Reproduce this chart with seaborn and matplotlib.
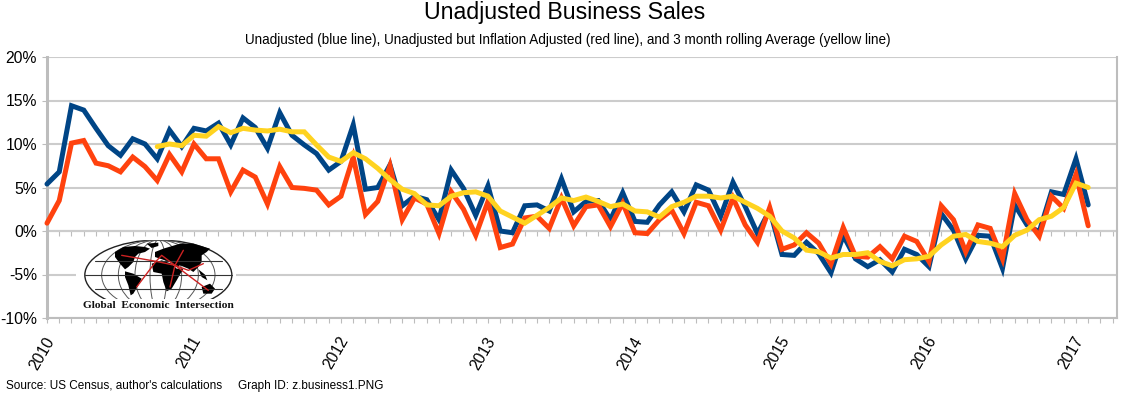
#!/usr/bin/env python3
import numpy as np
import pandas as pd
import matplotlib
matplotlib.use('Agg')
import matplotlib.pyplot as plt
from matplotlib.patches import Ellipse, Polygon, Rectangle
from matplotlib.transforms import ScaledTranslation
import seaborn as sns

# Values, percent year over year, monthly from Jan 2010
blue = [5.4, 6.8, 14.4, 13.9, 11.8, 9.8, 8.7, 10.6, 10.0, 8.3, 11.6, 9.7,
        11.8, 11.5, 12.4, 9.9, 13.0, 11.9, 9.5, 13.6, 11.0, 9.9, 8.9, 7.0,
        8.0, 12.2, 4.8, 5.0, 7.6, 2.9, 4.0, 3.6, 1.3, 7.0, 4.9, 1.8,
        5.2, 0.0, -0.2, 2.9, 3.0, 2.3, 6.0, 2.2, 3.4, 3.5, 1.3, 4.4,
        1.1, 1.0, 3.0, 4.5, 2.2, 5.3, 4.7, 1.7, 5.6, 2.8, -0.3, 2.4,
        -2.7, -2.8, -1.3, -2.6, -4.8, -0.5, -3.2, -4.1, -3.3, -4.7, -2.1, -2.7,
        -4.1, 2.0, 0.1, -3.2, -0.5, -0.6, -4.3, 3.0, 0.7, -0.1, 4.5, 4.2,
        8.3, 3.0]
red = [0.9, 3.5, 10.1, 10.4, 7.8, 7.5, 6.8, 8.5, 7.4, 5.8, 8.8, 6.8,
       10.0, 8.3, 8.3, 4.5, 7.0, 6.2, 3.1, 7.4, 5.0, 4.9, 4.7, 3.0,
       4.0, 8.5, 1.9, 3.4, 7.5, 1.3, 3.8, 3.1, -0.3, 4.5, 2.5, -0.5,
       3.4, -1.9, -1.5, 1.5, 1.7, 0.3, 3.8, 0.6, 2.8, 3.0, 0.5, 3.2,
       -0.2, -0.3, 1.3, 2.4, -0.3, 3.3, 2.9, 0.1, 3.8, 0.7, -1.3, 2.7,
       -2.1, -1.6, -0.2, -1.4, -3.8, 0.4, -2.9, -3.0, -1.8, -3.2, -0.6, -1.2,
       -3.5, 2.9, 1.3, -2.4, 0.7, 0.3, -3.2, 4.3, 1.3, -0.6, 4.0, 2.6,
       6.5, 0.6]
# 3 month rolling average starts in Oct 2010
yellow_start = 9
yellow = [9.7, 10.0, 9.8, 11.0, 10.9, 12.0, 11.3, 11.8, 11.6, 11.5, 11.7, 11.4,
          11.4, 9.9, 8.5, 8.0, 9.0, 8.3, 7.2, 5.9, 4.8, 4.3, 3.0, 2.9,
          4.0, 4.4, 4.5, 4.0, 2.3, 1.6, 0.9, 1.8, 2.7, 3.8, 3.5, 3.9,
          3.4, 2.8, 3.1, 2.3, 2.2, 1.6, 2.8, 3.3, 4.0, 4.0, 3.8, 4.0,
          3.3, 2.6, 1.7, 0.0, -0.8, -2.2, -2.4, -3.1, -2.7, -2.7, -2.5, -3.5,
          -4.0, -3.3, -3.2, -2.9, -1.6, -0.6, -0.4, -1.2, -1.4, -1.8, -0.5, 0.1,
          1.3, 1.7, 2.7, 5.5, 5.0]
years = ['2010', '2011', '2012', '2013', '2014', '2015', '2016', '2017']
y_ticks = [-10, -5, 0, 5, 10, 15, 20]

title = 'Unadjusted Business Sales'
subtitle = ('Unadjusted (blue line), Unadjusted but Inflation Adjusted (red line), '
            'and 3 month rolling Average (yellow line)')
source = "Source: US Census, author's calculations"
graph_id = 'Graph ID: z.business1.PNG'
logo_text = 'Global  Economic  Intersection'

GRID = '#cccccc'
AXIS = '#bdbdbd'
COLORS = {'blue': '#004586', 'red': '#ff420e', 'yellow': '#ffd320'}

sns.set_theme(style='white')
plt.rcParams['font.family'] = ['Liberation Sans', 'DejaVu Sans']

n = len(blue)
df = pd.DataFrame({
    'month': list(range(n)) * 2 + list(range(yellow_start, yellow_start + len(yellow))),
    'value': blue + red + yellow,
    'series': ['blue'] * n + ['red'] * n + ['yellow'] * len(yellow),
})

W, H = 1122, 393
fig = plt.figure(figsize=(W / 100, H / 100), dpi=100)
ax = fig.add_axes([47 / W, 1 - 318 / H, (1117 - 47) / W, (318 - 57) / H])

ax.set_xlim(0, 87.35)
ax.set_ylim(-10, 20)
ax.yaxis.grid(True, color=GRID, linewidth=1.5)
ax.set_axisbelow(True)

sns.lineplot(data=df, x='month', y='value', hue='series', palette=COLORS,
             hue_order=['blue', 'red', 'yellow'], linewidth=3.6, legend=False,
             errorbar=None, estimator=None, ax=ax, clip_on=False,
             solid_joinstyle='miter', zorder=3)
ax.set_xlabel('')
ax.set_ylabel('')

for name in ['left', 'bottom', 'right', 'top']:
    ax.spines[name].set_color(AXIS)
ax.spines['left'].set_linewidth(2.2)
ax.spines['bottom'].set_linewidth(1.5)
ax.spines['right'].set_linewidth(1.5)
ax.spines['top'].set_visible(False)

ax.set_yticks(y_ticks)
ax.set_yticklabels([f'{v}%' for v in y_ticks], fontsize=11.3, color='black')
ax.tick_params(axis='y', length=3.6, width=0.8, color=AXIS, pad=3.6, left=True)

month_ticks = np.arange(0, 88)
year_ticks = np.arange(0, 12 * len(years), 12)
ax.set_xticks(month_ticks, minor=True)
ax.set_xticks(year_ticks)
ax.set_xticklabels(years, rotation=60, ha='right', rotation_mode='anchor',
                   fontsize=11.3, color='black')
ax.tick_params(axis='x', which='both', length=3.6, width=0.8, color=AXIS, bottom=True, pad=8)
shift = ScaledTranslation(-3 / 100, 0, fig.dpi_scale_trans)
for lab in ax.get_xticklabels():
    lab.set_transform(lab.get_transform() + shift)

# second row of month ticks hangs off the zero line
zero_axis = ax.secondary_xaxis(1 / 3)
zero_axis.spines['bottom'].set_color(AXIS)
zero_axis.spines['bottom'].set_linewidth(1.5)
zero_axis.set_xticks(month_ticks)
zero_axis.set_xticklabels([])
zero_axis.tick_params(axis='x', length=3.6, width=0.8, color=AXIS, bottom=True)

# logo, drawn in its own box, units are 1/3 pixel
logo = fig.add_axes([76 / W, 1 - 316 / H, 160 / W, 76 / H], zorder=2)
logo.set_xlim(18, 498)
logo.set_ylim(252, 24)
logo.axis('off')
logo.add_patch(Rectangle((18, 24), 480, 228, facecolor='white', edgecolor='none'))
logo.add_patch(Ellipse((265, 129), 441, 210, facecolor='white', edgecolor='#222222', linewidth=1))
for w in [340, 240, 140, 50]:
    logo.add_patch(Ellipse((265, 129), w, 210, fill=False, edgecolor='#555555', linewidth=0.7))
for y, half in [(88, 190), (129, 220), (170, 190)]:
    logo.plot([265 - half, 265 + half], [y, y], color='#333333', linewidth=0.8)
continents = [
    [(135, 60), (160, 45), (195, 42), (225, 45), (240, 50), (225, 60), (205, 65), (195, 75),
     (190, 90), (175, 105), (165, 112), (150, 95), (135, 75)],
    [(230, 35), (265, 32), (265, 42), (245, 48)],
    [(165, 118), (190, 125), (215, 140), (205, 160), (190, 185), (182, 190), (175, 160), (165, 135)],
    [(245, 95), (275, 85), (305, 95), (320, 110), (340, 110), (320, 145), (305, 170), (290, 178),
     (280, 150), (275, 125), (250, 120)],
    [(255, 60), (280, 50), (330, 35), (370, 35), (420, 50), (410, 60), (395, 70), (395, 90),
     (385, 105), (370, 120), (355, 110), (330, 100), (320, 105), (300, 90), (270, 80), (255, 75)],
    [(385, 112), (405, 128), (412, 145), (395, 135)],
    [(395, 165), (420, 155), (435, 170), (425, 185), (400, 185)],
]
for c in continents:
    logo.add_patch(Polygon(c, closed=True, facecolor='black', edgecolor='none'))
logo.add_patch(Rectangle((18, 200), 480, 52, facecolor='white', edgecolor='none', zorder=3))
routes = [[(155, 70), (258, 88), (315, 100)],
          [(200, 165), (258, 88), (275, 70), (315, 100), (415, 175)],
          [(340, 55), (315, 100), (300, 165)],
          [(315, 100), (355, 115), (400, 95)]]
for r in routes:
    xs, ys = zip(*r)
    logo.plot(xs, ys, color='#cc2222', linewidth=1)
logo.text(265, 222, logo_text, ha='center', va='center', fontsize=8.2, fontweight='bold',
          family='Liberation Serif', color='#111111', zorder=4)

fig.text(565 / W, 1 - 12 / H, title, ha='center', va='center', fontsize=16.7, color='black')
fig.text(568 / W, 1 - 40 / H, subtitle, ha='center', va='center', fontsize=9.74, color='black')
fig.text(6 / W, 1 - 386 / H, source, ha='left', va='center', fontsize=8.43, color='black')
fig.text(238 / W, 1 - 386 / H, graph_id, ha='left', va='center', fontsize=8.43, color='black')

fig.savefig('out.png', dpi=100, facecolor='white')
